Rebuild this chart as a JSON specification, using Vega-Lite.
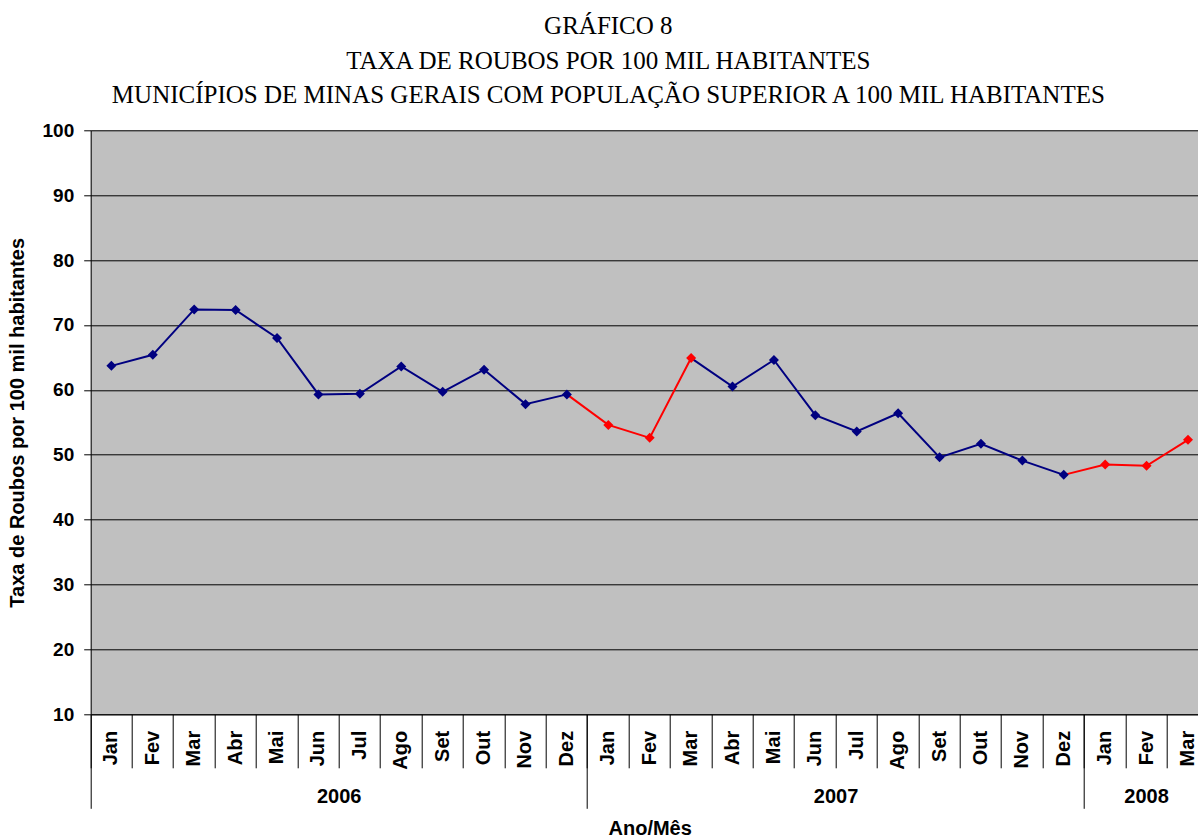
{
  "$schema": "https://vega.github.io/schema/vega-lite/v6.json",
  "width": 1107.3,
  "height": 584,
  "autosize": {"type": "none"},
  "padding": {"left": 90.7, "top": 130.3, "right": 0, "bottom": 123.7},
  "background": "white",
  "title": {
    "text": ["GRÁFICO 8", "TAXA DE ROUBOS POR 100 MIL HABITANTES", "MUNICÍPIOS DE MINAS GERAIS COM POPULAÇÃO SUPERIOR A 100 MIL HABITANTES"],
    "font": "Liberation Serif",
    "fontSize": 25,
    "fontWeight": "normal",
    "color": "#000000",
    "anchor": "middle",
    "frame": "bounds",
    "lineHeight": 34.5,
    "offset": 13
  },
  "datasets": {
    "pontos": [
      {"ym": "2006-01", "taxa": 63.7, "cor": "azul"},
      {"ym": "2006-02", "taxa": 65.4, "cor": "azul"},
      {"ym": "2006-03", "taxa": 72.4, "cor": "azul"},
      {"ym": "2006-04", "taxa": 72.3, "cor": "azul"},
      {"ym": "2006-05", "taxa": 68.0, "cor": "azul"},
      {"ym": "2006-06", "taxa": 59.3, "cor": "azul"},
      {"ym": "2006-07", "taxa": 59.4, "cor": "azul"},
      {"ym": "2006-08", "taxa": 63.6, "cor": "azul"},
      {"ym": "2006-09", "taxa": 59.7, "cor": "azul"},
      {"ym": "2006-10", "taxa": 63.1, "cor": "azul"},
      {"ym": "2006-11", "taxa": 57.8, "cor": "azul"},
      {"ym": "2006-12", "taxa": 59.3, "cor": "azul"},
      {"ym": "2007-01", "taxa": 54.6, "cor": "vermelho"},
      {"ym": "2007-02", "taxa": 52.6, "cor": "vermelho"},
      {"ym": "2007-03", "taxa": 64.9, "cor": "vermelho"},
      {"ym": "2007-04", "taxa": 60.5, "cor": "azul"},
      {"ym": "2007-05", "taxa": 64.6, "cor": "azul"},
      {"ym": "2007-06", "taxa": 56.1, "cor": "azul"},
      {"ym": "2007-07", "taxa": 53.6, "cor": "azul"},
      {"ym": "2007-08", "taxa": 56.4, "cor": "azul"},
      {"ym": "2007-09", "taxa": 49.6, "cor": "azul"},
      {"ym": "2007-10", "taxa": 51.7, "cor": "azul"},
      {"ym": "2007-11", "taxa": 49.1, "cor": "azul"},
      {"ym": "2007-12", "taxa": 46.9, "cor": "azul"},
      {"ym": "2008-01", "taxa": 48.5, "cor": "vermelho"},
      {"ym": "2008-02", "taxa": 48.3, "cor": "vermelho"},
      {"ym": "2008-03", "taxa": 52.3, "cor": "vermelho"}
    ],
    "trechos": [
      {"trecho": 1, "ym": "2006-01", "taxa": 63.7, "cor": "azul"},
      {"trecho": 1, "ym": "2006-02", "taxa": 65.4, "cor": "azul"},
      {"trecho": 1, "ym": "2006-03", "taxa": 72.4, "cor": "azul"},
      {"trecho": 1, "ym": "2006-04", "taxa": 72.3, "cor": "azul"},
      {"trecho": 1, "ym": "2006-05", "taxa": 68.0, "cor": "azul"},
      {"trecho": 1, "ym": "2006-06", "taxa": 59.3, "cor": "azul"},
      {"trecho": 1, "ym": "2006-07", "taxa": 59.4, "cor": "azul"},
      {"trecho": 1, "ym": "2006-08", "taxa": 63.6, "cor": "azul"},
      {"trecho": 1, "ym": "2006-09", "taxa": 59.7, "cor": "azul"},
      {"trecho": 1, "ym": "2006-10", "taxa": 63.1, "cor": "azul"},
      {"trecho": 1, "ym": "2006-11", "taxa": 57.8, "cor": "azul"},
      {"trecho": 1, "ym": "2006-12", "taxa": 59.3, "cor": "azul"},
      {"trecho": 2, "ym": "2006-12", "taxa": 59.3, "cor": "vermelho"},
      {"trecho": 2, "ym": "2007-01", "taxa": 54.6, "cor": "vermelho"},
      {"trecho": 2, "ym": "2007-02", "taxa": 52.6, "cor": "vermelho"},
      {"trecho": 2, "ym": "2007-03", "taxa": 64.9, "cor": "vermelho"},
      {"trecho": 3, "ym": "2007-03", "taxa": 64.9, "cor": "azul"},
      {"trecho": 3, "ym": "2007-04", "taxa": 60.5, "cor": "azul"},
      {"trecho": 3, "ym": "2007-05", "taxa": 64.6, "cor": "azul"},
      {"trecho": 3, "ym": "2007-06", "taxa": 56.1, "cor": "azul"},
      {"trecho": 3, "ym": "2007-07", "taxa": 53.6, "cor": "azul"},
      {"trecho": 3, "ym": "2007-08", "taxa": 56.4, "cor": "azul"},
      {"trecho": 3, "ym": "2007-09", "taxa": 49.6, "cor": "azul"},
      {"trecho": 3, "ym": "2007-10", "taxa": 51.7, "cor": "azul"},
      {"trecho": 3, "ym": "2007-11", "taxa": 49.1, "cor": "azul"},
      {"trecho": 3, "ym": "2007-12", "taxa": 46.9, "cor": "azul"},
      {"trecho": 4, "ym": "2007-12", "taxa": 46.9, "cor": "vermelho"},
      {"trecho": 4, "ym": "2008-01", "taxa": 48.5, "cor": "vermelho"},
      {"trecho": 4, "ym": "2008-02", "taxa": 48.3, "cor": "vermelho"},
      {"trecho": 4, "ym": "2008-03", "taxa": 52.3, "cor": "vermelho"}
    ]
  },
  "encoding": {
    "y": {
      "field": "taxa",
      "type": "quantitative",
      "scale": {"domain": [10, 100], "nice": false, "zero": false},
      "axis": {
        "values": [10, 20, 30, 40, 50, 60, 70, 80, 90, 100],
        "grid": true,
        "gridColor": "#000000",
        "gridOpacity": 1,
        "gridWidth": 1,
        "domain": true,
        "domainColor": "#000000",
        "tickColor": "#000000",
        "tickSize": 7,
        "labelFont": "Liberation Sans",
        "labelFontSize": 19,
        "labelFontWeight": "bold",
        "labelColor": "#000000",
        "labelPadding": 10,
        "title": "Taxa de Roubos por 100 mil habitantes",
        "titleFont": "Liberation Sans",
        "titleFontSize": 20,
        "titleFontWeight": "bold",
        "titleColor": "#000000",
        "titlePadding": 14
      }
    },
    "color": {
      "field": "cor",
      "type": "nominal",
      "scale": {"domain": ["azul", "vermelho"], "range": ["#000080", "#ff0000"]},
      "legend": null
    }
  },
  "layer": [
    {
      "data": {"name": "trechos"},
      "mark": {"type": "line", "strokeWidth": 2},
      "encoding": {
        "x": {
          "field": "ym",
          "type": "ordinal",
          "sort": "ascending",
          "scale": {"type": "band", "paddingInner": 0, "paddingOuter": 0, "range": [0, 1118]},
          "axis": {
            "orient": "bottom",
            "values": ["2006-01", "2006-07", "2007-01", "2007-07", "2008-01", "2008-02"],
            "bandPosition": 0,
            "tickSize": 94,
            "tickColor": "#000000",
            "tickOpacity": {"condition": {"test": "indexof(['2006-01','2007-01','2008-01'], datum.value) >= 0", "value": 1}, "value": 0},
            "labelExpr": "indexof(['2006-07','2007-07','2008-02'], datum.value) >= 0 ? slice(datum.value, 0, 4) : ''",
            "labelOffset": {"condition": {"test": "datum.value == '2008-02'", "value": 0}, "value": -20.7},
            "labelPadding": -22,
            "labelAngle": 0,
            "labelFont": "Liberation Sans",
            "labelFontSize": 20,
            "labelFontWeight": "bold",
            "labelColor": "#000000",
            "labelOverlap": false,
            "domain": false,
            "grid": false,
            "title": null
          }
        },
        "detail": {"field": "trecho", "type": "nominal"}
      }
    },
    {
      "data": {"name": "pontos"},
      "mark": {"type": "point", "shape": "diamond", "filled": true, "size": 100, "opacity": 1},
      "encoding": {
        "x": {
          "field": "ym",
          "type": "ordinal",
          "sort": "ascending",
          "scale": {"type": "band", "paddingInner": 0, "paddingOuter": 0, "range": [0, 1118]},
          "axis": {
            "orient": "bottom",
            "bandPosition": 0,
            "tickSize": 53.5,
            "tickColor": "#000000",
            "labelExpr": "['Jan','Fev','Mar','Abr','Mai','Jun','Jul','Ago','Set','Out','Nov','Dez'][toNumber(slice(datum.value, 5)) - 1]",
            "labelAngle": -90,
            "labelAlign": "right",
            "labelBaseline": "middle",
            "labelOffset": 0,
            "labelPadding": -37.5,
            "labelFont": "Liberation Sans",
            "labelFontSize": 20,
            "labelFontWeight": "bold",
            "labelColor": "#000000",
            "labelOverlap": false,
            "domain": true,
            "domainColor": "#000000",
            "grid": false,
            "title": "Ano/Mês",
            "titleFont": "Liberation Sans",
            "titleFontSize": 20,
            "titleFontWeight": "bold",
            "titleColor": "#000000",
            "titleY": 120.5,
            "titleBaseline": "alphabetic"
          }
        }
      }
    }
  ],
  "resolve": {"axis": {"x": "independent"}},
  "config": {
    "view": {"fill": "#c0c0c0", "stroke": null}
  }
}
